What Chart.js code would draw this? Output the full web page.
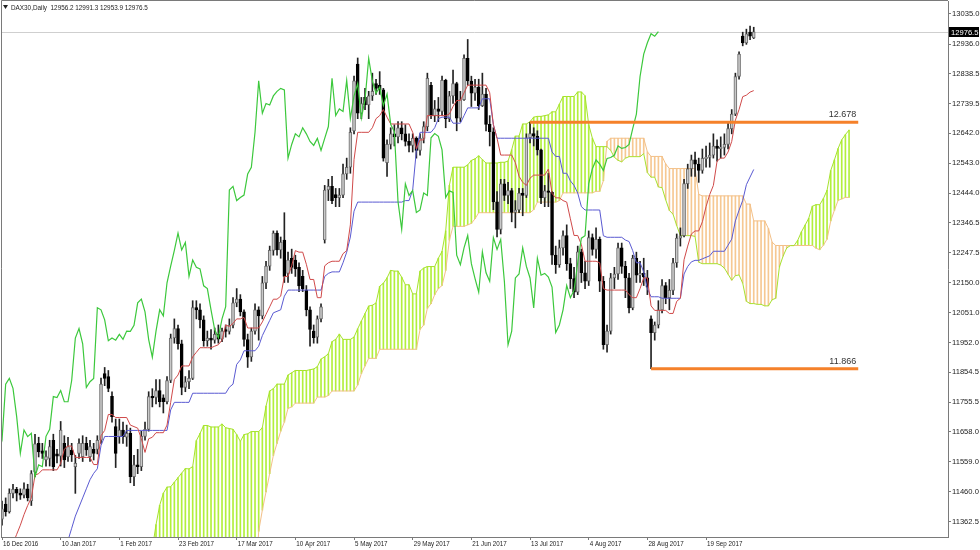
<!DOCTYPE html>
<html><head><meta charset="utf-8">
<script src="https://cdn.jsdelivr.net/npm/chart.js@4.4.0/dist/chart.umd.min.js"></script>
<style>html,body{margin:0;padding:0;background:#fff;overflow:hidden}#wrap{width:980px;height:550px;position:relative}</style>
</head><body><div id="wrap"><canvas id="c" width="980" height="550"></canvas></div>
<script>
const symbolTitle = "DAX30,Daily";
const lastBarText = "12956.2 12991.3 12953.9 12976.5";
const dateLabels = ["16 Dec 2016","10 Jan 2017","1 Feb 2017","23 Feb 2017","17 Mar 2017","10 Apr 2017","5 May 2017","29 May 2017","21 Jun 2017","13 Jul 2017","4 Aug 2017","28 Aug 2017","19 Sep 2017"];
const dateLabelIdx = [0,16,32,48,64,80,96,112,128,144,160,176,192];
const priceTicks = [13035.0,12936.0,12838.5,12739.5,12642.0,12543.0,12444.0,12346.5,12247.5,12150.0,12051.0,11952.0,11854.5,11755.5,11658.0,11559.0,11460.0,11362.5];

const open = [
11370,11420,11395,11455,11468,11456,11449,11470,11430,11525,
11620,11595,11565,11570,11630,11585,11578,11620,11575,11598,
11543,11587,11576,11620,11576,11600,11600,11630,11850,11840,
11775,11675,11642,11664,11640,11653,11510,11549,11543,11643,
11666,11774,11771,11794,11770,11757,11827,11967,11998,11948,
11804,11823,11834,12067,12060,12027,11958,11967,11960,11979,
11963,11995,11989,12009,12083,12095,12053,11962,11905,11990,
12060,12040,12149,12204,12256,12313,12257,12290,12180,12230,
12224,12200,12170,12125,12060,11990,11970,12030,12290,12455,
12467,12440,12430,12438,12508,12530,12650,12870,12708,12760,
12735,12765,12806,12800,12785,12545,12605,12640,12630,12660,
12640,12615,12602,12625,12585,12625,12664,12800,12700,12722,
12714,12816,12690,12765,12806,12692,12753,12889,12814,12774,
12794,12733,12771,12671,12647,12416,12325,12475,12437,12453,
12381,12389,12445,12437,12627,12641,12632,12587,12430,12452,
12447,12240,12209,12264,12305,12212,12163,12118,12251,12182,
12154,12298,12259,12292,12154,11945,11990,12165,12178,12264,
12203,12165,12066,12230,12174,12180,12165,12030,11985,12010,
12060,12140,12100,12124,12215,12296,12304,12476,12525,12554,
12540,12519,12559,12562,12570,12600,12592,12595,12605,12657,
12705,12829,12962,12940,12975,12956.2];
const high = [
11430,11440,11470,11485,11475,11470,11490,11485,11530,11650,
11640,11620,11595,11630,11650,11600,11692,11645,11640,11620,
11580,11635,11645,11640,11630,11620,11645,11835,11870,11860,
11790,11700,11700,11690,11680,11670,11580,11600,11660,11690,
11790,11800,11830,11830,11780,11840,11980,12030,12010,11960,
11840,11860,12090,12090,12080,12040,11990,11995,12000,12010,
12000,12010,12030,12100,12130,12110,12060,11980,12000,12080,
12070,12170,12220,12270,12320,12320,12300,12380,12250,12260,
12240,12215,12190,12140,12070,12010,12040,12080,12470,12490,
12500,12460,12460,12540,12560,12660,12830,12890,12760,12790,
12780,12840,12820,12845,12790,12620,12660,12670,12680,12680,
12670,12640,12640,12630,12640,12680,12840,12810,12750,12760,
12830,12820,12780,12850,12810,12780,12900,12951,12830,12820,
12820,12840,12790,12700,12660,12450,12490,12490,12480,12460,
12420,12460,12460,12640,12678,12660,12650,12590,12470,12510,
12450,12270,12290,12320,12340,12230,12200,12270,12260,12220,
12320,12310,12330,12300,12170,12010,12180,12200,12280,12280,
12220,12180,12240,12250,12220,12230,12190,12040,12020,12090,
12160,12150,12160,12230,12310,12330,12490,12540,12570,12580,
12560,12590,12600,12610,12640,12620,12630,12640,12680,12720,
12840,12910,12975,12985,12995,12991.3];
const low = [
11350,11380,11390,11440,11430,11435,11440,11430,11415,11510,
11575,11570,11545,11545,11530,11555,11545,11540,11560,11560,
11455,11570,11560,11580,11560,11565,11585,11620,11810,11790,
11690,11540,11620,11620,11610,11490,11480,11520,11530,11630,
11660,11740,11750,11740,11720,11750,11820,11950,11930,11780,
11790,11800,11830,12030,12000,11940,11940,11930,11950,11950,
11955,11970,11980,12000,12070,12040,11940,11870,11890,11980,
11960,12030,12130,12190,12240,12240,12230,12150,12150,12180,
12170,12120,12120,12040,11940,11950,11950,12020,12280,12420,
12410,12400,12400,12430,12490,12510,12640,12690,12690,12720,
12690,12750,12770,12770,12550,12500,12590,12600,12610,12620,
12600,12580,12580,12560,12570,12610,12650,12690,12680,12680,
12700,12660,12680,12740,12650,12680,12750,12800,12730,12750,
12720,12730,12650,12600,12390,12300,12310,12420,12410,12350,
12330,12380,12370,12430,12610,12600,12570,12410,12400,12400,
12210,12180,12200,12240,12190,12130,12100,12110,12150,12130,
12140,12240,12230,12120,11930,11920,11980,12130,12160,12180,
12100,12050,12060,12150,12150,12140,12110,11866,11960,12000,
12050,12080,12060,12110,12200,12270,12300,12460,12500,12500,
12480,12510,12530,12530,12560,12550,12560,12570,12590,12640,
12700,12820,12930,12935,12950,12953.9];
const close = [
11404,11395,11455,11468,11456,11449,11470,11440,11520,11618,
11592,11587,11576,11609,11543,11578,11664,11565,11609,11582,
11554,11620,11620,11598,11609,11587,11630,11815,11834,11801,
11708,11587,11664,11642,11653,11510,11549,11543,11643,11666,
11774,11771,11794,11757,11757,11827,11967,11998,11948,11804,
11823,11834,12067,12060,12027,11958,11967,11960,11979,11963,
11990,11989,12009,12083,12095,12053,11962,11904,11990,12060,
12040,12149,12204,12256,12313,12257,12282,12170,12224,12200,
12195,12139,12130,12060,11995,11968,12030,12070,12455,12467,
12420,12430,12438,12508,12530,12645,12815,12708,12740,12735,
12765,12780,12790,12785,12560,12605,12640,12630,12660,12640,
12615,12602,12625,12585,12625,12664,12823,12700,12722,12714,
12816,12690,12765,12806,12692,12753,12889,12814,12774,12794,
12733,12771,12671,12647,12416,12325,12475,12437,12453,12381,
12389,12445,12437,12627,12641,12632,12587,12430,12452,12447,
12240,12209,12264,12305,12212,12163,12118,12251,12182,12154,
12298,12259,12292,12154,11945,11990,12165,12178,12264,12203,
12165,12066,12230,12174,12180,12168,12135,11985,12010,12060,
12140,12100,12124,12215,12296,12304,12476,12525,12554,12540,
12519,12559,12562,12570,12600,12592,12595,12605,12657,12705,
12829,12903,12940,12970,12962,12976.5];

// Ichimoku values read off the picture where the window has no history
const tenkanLead = [11200,11230,11260,11290,11320,11350,11385,11415];
const kijunLead = [10600,10620,10650,10680,10700,10720,10750,10780,10800,10830,10860,10890,10920,10950,10980,11010,11150,11230,11300,11340,11380,11410,11440,11470,11500];
const spanBLead = [11100,11100,11100,11100,11100,11100,11100,11100,11100,11100,
11100,11100,11100,11100,11100,11100,11100,11100,11100,11100,
11100,11100,11100,11100,11100,11100,11100,11100,11100,11100,
11100,11100,11100,11100,11100,11100,11100,11100,11100,11100,
11100,11100,11100,11100,11330,11400,11460,11520,11580,11620,11660];

const levelValues = [12678, 11866];
const levelStart = [144, 177];
const levelEnd = 233.5;
const levelText = ["12.678", "11.866"];
const lastPrice = 12976.5;

// ---- Ichimoku (9/26/52) derived from the candle arrays ----
const N = close.length, SHIFT = 26;
function mid(end, n){ let hh=-Infinity, ll=Infinity; for(let k=end-n+1;k<=end;k++){ if(high[k]>hh)hh=high[k]; if(low[k]<ll)ll=low[k]; } return (hh+ll)/2; }
const tenkan = [], kijun = [];
for(let i=0;i<N;i++){ tenkan.push(i>=8?mid(i,9):tenkanLead[i]); kijun.push(i>=25?mid(i,26):kijunLead[i]); }
const spanA = [], spanB = [];
for(let i=0;i<N;i++){ spanA.push({x:i+SHIFT, y:(tenkan[i]+kijun[i])/2}); spanB.push({x:i+SHIFT, y: i>=51?mid(i,52):spanBLead[i]}); }

const GREEN_CLOUD = '#b2ef3c', ORANGE_CLOUD = '#f6c892';
const cloudData = spanA.map((a,k)=>({x:a.x, y:[Math.min(a.y,spanB[k].y), Math.max(a.y,spanB[k].y)]}));
const cloudColors = spanA.map((a,k)=> a.y>=spanB[k].y ? GREEN_CLOUD : ORANGE_CLOUD);

const wickData = close.map((c,i)=>({x:i, y:[low[i], high[i]]}));
const bodyData = close.map((c,i)=>{ let lo=Math.min(open[i],c), hi=Math.max(open[i],c); if(hi-lo<5){const m=(hi+lo)/2; lo=m-2.5; hi=m+2.5;} return {x:i, y:[lo,hi]}; });
const bodyFill = close.map((c,i)=> c>=open[i] ? '#c9c9c9' : '#000000');
const bodyEdge = close.map((c,i)=> c>=open[i] ? '#6a6a6a' : '#000000');

const line = (data, color, order, w) => ({type:'line', data, borderColor:color, borderWidth:w||1, pointRadius:0, tension:0, fill:false, order, spanGaps:false});

const levelSets = levelValues.map((v,k)=>({type:'line', data:[{x:levelStart[k], y:v},{x:levelEnd, y:v}], borderColor:'#f5812a', borderWidth:3, pointRadius:0, order:0}));

const FONT_FAMILY = '"Liberation Sans", Arial, sans-serif';
const AX_FONT = {family:'Liberation Sans, Arial, sans-serif', size:7.6};

function squeezeText(ctx, text, x, y, sx){ ctx.save(); ctx.translate(x,y); ctx.scale(sx,1); ctx.fillText(text,0,0); ctx.restore(); }

const deco = {
  id:'deco',
  beforeDraw(chart){ const c=chart.ctx; c.save(); c.fillStyle='#fff'; c.fillRect(0,0,chart.width,chart.height); c.restore(); },
  beforeDatasetsDraw(chart){
    const {ctx, chartArea:a, scales:{y}} = chart;
    const py = Math.round(y.getPixelForValue(lastPrice))+0.5;
    ctx.save(); ctx.strokeStyle='#cfcfcf'; ctx.lineWidth=1; ctx.beginPath(); ctx.moveTo(a.left,py); ctx.lineTo(a.right,py); ctx.stroke(); ctx.restore();
  },
  afterDraw(chart){
    const {ctx, chartArea:a, scales:{x,y}} = chart;
    ctx.save();
    ctx.strokeStyle='#7a7a7a'; ctx.lineWidth=1;
    ctx.beginPath(); ctx.moveTo(1.5,a.bottom); ctx.lineTo(1.5,0.5); ctx.lineTo(a.right,0.5); ctx.stroke();
    // title
    ctx.fillStyle='#222';
    ctx.beginPath(); ctx.moveTo(3,5); ctx.lineTo(8,5); ctx.lineTo(5.5,9); ctx.closePath(); ctx.fill();
    ctx.font = '7.4px ' + FONT_FAMILY; ctx.textBaseline='middle'; ctx.textAlign='left';
    squeezeText(ctx, symbolTitle + "  " + lastBarText, 11, 7.5, 0.86);
    // date labels
    ctx.font = '7.6px ' + FONT_FAMILY; ctx.textBaseline='top'; ctx.fillStyle='#222';
    dateLabelIdx.forEach((v,k)=>{ squeezeText(ctx, dateLabels[k], x.getPixelForValue(v)+1, a.bottom+3, 0.82); });
    // level labels
    ctx.font = '9px ' + FONT_FAMILY; ctx.textAlign='right'; ctx.textBaseline='bottom'; ctx.fillStyle='#333';
    levelValues.forEach((v,k)=>{ const py=y.getPixelForValue(v); ctx.fillText(levelText[k], x.getPixelForValue(levelEnd)-2, py-3); });
    // last price box
    const py = Math.round(y.getPixelForValue(lastPrice));
    ctx.fillStyle='#000'; ctx.fillRect(a.right+1, py-5, 30, 10);
    ctx.fillStyle='#fff'; ctx.font='7.6px ' + FONT_FAMILY; ctx.textAlign='left'; ctx.textBaseline='middle';
    ctx.fillText(lastPrice.toFixed(1), a.right+3, py+0.5);
    ctx.restore();
  }
};

new Chart(document.getElementById('c'), {
  data: {
    datasets: [
      {type:'bar', data:cloudData, backgroundColor:cloudColors, barThickness:1, grouped:false, order:10},
      line(spanA, '#a6e22e', 8),
      line(spanB, '#f3c088', 8),
      {type:'bar', data:wickData, backgroundColor:'#222', barThickness:1, grouped:false, order:6},
      {type:'bar', data:bodyData, backgroundColor:bodyFill, borderColor:bodyEdge, borderWidth:1, borderSkipped:false, barThickness:3, grouped:false, order:5},
      line(tenkan.map((v,i)=>({x:i,y:v})), '#d04a4a', 3),
      line(kijun.map((v,i)=>({x:i,y:v})), '#5a5ad2', 3),
      line(close.map((v,i)=>({x:i-SHIFT,y:v})), '#3cc83c', 2, 1.2),
      ...levelSets
    ]
  },
  options: {
    responsive:false, animation:false, devicePixelRatio:1, events:[],
    layout:{padding:{left:1, top:1, right:0, bottom:0}},
    plugins:{legend:{display:false}, tooltip:{enabled:false}},
    scales:{
      x:{type:'linear', position:'bottom', min:-0.273, max:257.98, offset:false,
        afterFit(s){ s.height=13; s.paddingLeft=0; s.paddingRight=0; },
        afterBuildTicks(s){ s.ticks = dateLabelIdx.map(v=>({value:v})); },
        ticks:{display:false, autoSkip:false, maxRotation:0},
        grid:{drawOnChartArea:false, drawTicks:true, tickLength:3, color:'#7a7a7a', offset:false},
        border:{display:true, color:'#7a7a7a'}},
      y:{type:'linear', position:'right', min:11311.2, max:13077.8,
        afterFit(s){ s.width=32; s.paddingTop=0; s.paddingBottom=0; },
        afterBuildTicks(s){ s.ticks = priceTicks.map(v=>({value:v})); },
        ticks:{autoSkip:false, padding:1, font:AX_FONT, color:'#222', callback:(v)=>Number(v).toFixed(1)},
        grid:{drawOnChartArea:false, drawTicks:true, tickLength:3, color:'#7a7a7a'},
        border:{display:true, color:'#7a7a7a'}}
    }
  },
  plugins:[deco]
});
</script></body></html>
